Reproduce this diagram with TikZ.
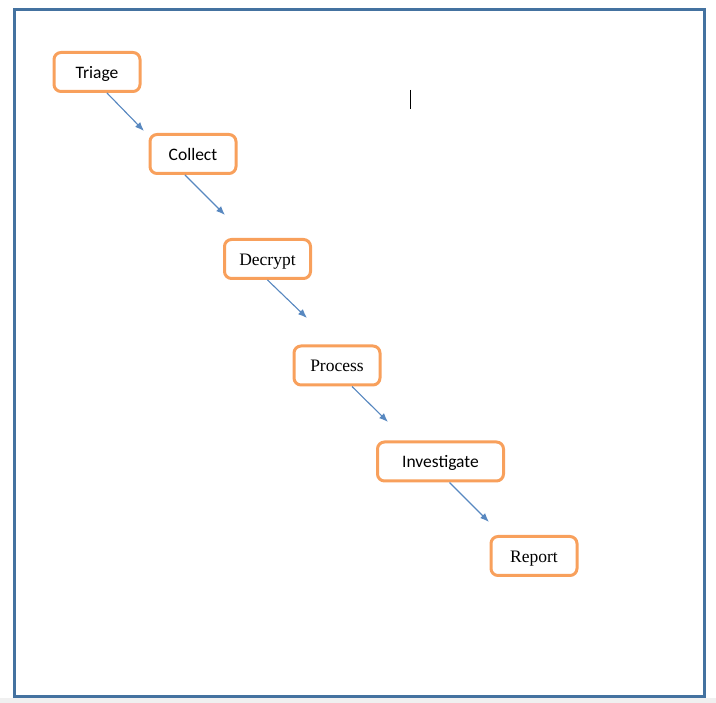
\documentclass[tikz,border=0pt]{standalone}
\usepackage{fontspec}
\setmainfont{Liberation Serif}
\newfontfamily\calfont{Carlito}
\usepackage{tikz}
\usetikzlibrary{positioning,calc,arrows.meta}
\definecolor{framblue}{RGB}{68,114,160}
\definecolor{boxorange}{RGB}{248,160,92}
\definecolor{arrblue}{RGB}{88,136,192}

\begin{document}
\begin{tikzpicture}[x=1pt,y=-1pt,
		stagebox/.style={draw=boxorange, line width=3pt, rounded corners=7pt, fill=white, minimum width=86pt, minimum height=39pt, inner sep=0pt, text height=13pt, text depth=0pt, font=\fontsize{17.5}{21}\selectfont},
		calbox/.style={stagebox, font=\calfont\fontsize{17.5}{21}\selectfont},
		flowarr/.style={-{Latex[length=9pt,width=7pt]}, draw=arrblue, fill=arrblue, line width=1.1pt}]
		\useasboundingbox (0,0) rectangle (716,703);
		\fill[black!6] (0,698) rectangle (716,703);
		\draw[framblue, line width=3pt] (14,9.5) rectangle (704,696);
		\draw[line width=1.3pt] (410.3,90)--(410.3,109.3);
		
		\node[calbox] (triage) at (97,72) {Triage};
		\node[calbox] (collect) at (193,154) {Collect};
		\node[stagebox] (decrypt) at (267.5,259) {Decrypt};
		\node[stagebox] (process) at (337,365.5) {Process};
		\node[calbox, minimum width=126pt] (investigate) at (440.5,461.5) {Investigate};
		\node[stagebox] (report) at (534,556) {Report};
		
		\coordinate (e1) at (144,131);
		\coordinate (e2) at (225,215);
		\coordinate (e3) at (307,318);
		\coordinate (e4) at (388,422);
		\coordinate (e5) at (489,522);
		
		\draw[flowarr] ([xshift=10pt]triage.south)--(e1);
		\draw[flowarr] ([xshift=-8pt]collect.south)--(e2);
		\draw[flowarr] (decrypt.south)--(e3);
		\draw[flowarr] ([xshift=15pt]process.south)--(e4);
		\draw[flowarr] ([xshift=9pt]investigate.south)--(e5);
	\end{tikzpicture}
\end{document}
